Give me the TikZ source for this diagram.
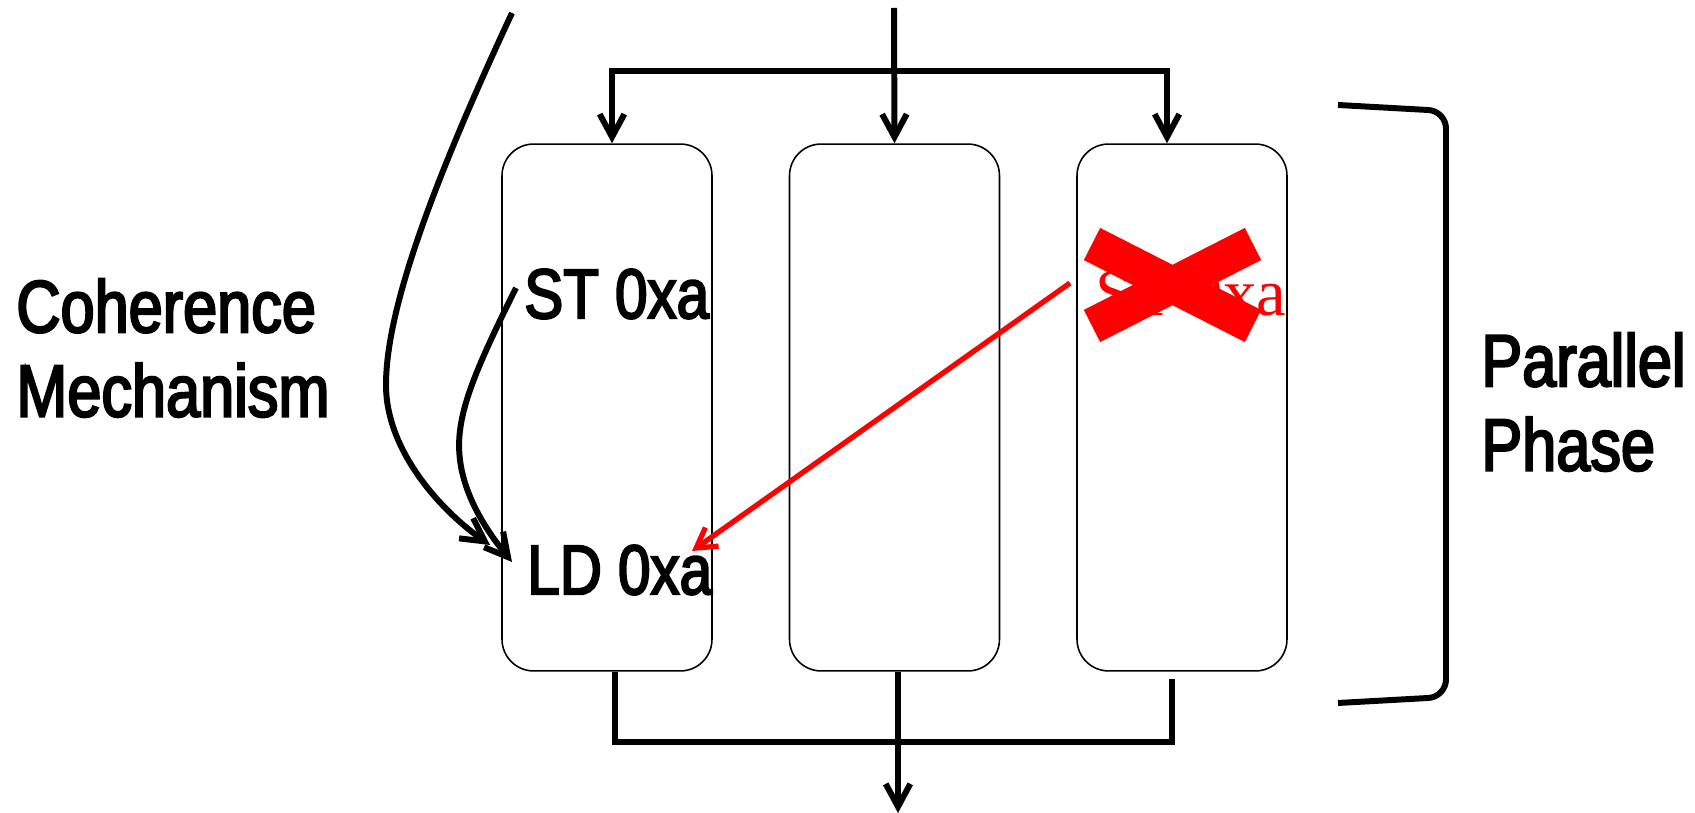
\documentclass[tikz,border=0pt]{standalone}
\usepackage{fontspec}
\setmainfont{Liberation Sans}[FakeStretch=0.83,FakeBold=3]
\newfontfamily\crossfont{Liberation Serif}
\usetikzlibrary{arrows.meta}

\begin{document}
\begin{tikzpicture}[x=0.02cm,y=-0.02cm,
  core/.style={draw,line width=0.9pt,rounded corners=18pt,minimum width=4.2cm,minimum height=10.54cm,inner sep=0pt},
  wire/.style={line width=3.4pt},
  flow/.style={wire,-{Straight Barb[length=13pt,width=14pt]}},
  label/.style={font=\fontsize{42}{48}\selectfont,anchor=west,inner sep=0pt,align=left},
  op/.style={label,font=\fontsize{40}{48}\selectfont}]
  \useasboundingbox (0,0) rectangle (1695,813);
  % three cores
  \node[core] (c1) at (607,407.5) {};
  \node[core] (c2) at (894.5,407.5) {};
  \node[core] (c3) at (1182,407.5) {};
  % texts
  \node[op] (st) at (524,294) {ST 0xa};
  \node[op] (ld) at (527,570) {LD 0xa};
  \node[label] (coh) at (16,348) {Coherence\\Mechanism};
  \node[label] (par) at (1481,402) {Parallel\\Phase};
  \node[font=\crossfont\fontsize{38}{40}\selectfont,text=red,anchor=west,inner sep=0pt] (st3) at (1095,294) {ST 0xa};
  \draw[red,line width=20.5pt] (1092,244) -- (1253,326) (1092,326) -- (1253,244);
  % fork on top
  \coordinate (in) at (894,8);
  \coordinate (fl) at (612,71);
  \coordinate (fr) at (1167,71);
  \draw[flow] (in) -- (c2.north);
  \draw[wire,{Straight Barb[length=13pt,width=14pt]}-{Straight Barb[length=13pt,width=14pt]}]
    (fl |- c1.north) -- (fl) -- (fr) -- (fr |- c3.north);
  % join at the bottom
  \coordinate (jl) at (615,742);
  \coordinate (jr) at (1172,742);
  \coordinate (out) at (898,813);
  \draw[wire] (jl |- c1.south) -- (jl) -- (jr) -- (1172,679);
  \draw[flow] (out |- c2.south) -- (out);
  % bracket
  \draw[wire,rounded corners=10pt] (1338,105) -- (1446,111) -- (1446,697) -- (1338,703);
  % coherence curves
  \coordinate (cohsrc) at (512,13);
  \coordinate (cohin) at (490,545);
  \coordinate (ldin) at (512,562);
  \draw[flow] (cohsrc) .. controls (420,210) and (386,320) .. (386,385)
    .. controls (386,450) and (440,510) .. (cohin);
  \draw[flow] ([xshift=-0.16cm,yshift=0.12cm]st.west) .. controls (470,380) and (455,420) .. (460,460)
    .. controls (465,500) and (490,535) .. (ldin);
  % red forwarding arrow
  \coordinate (rsrc) at (1070,283);
  \coordinate (rdst) at (692,551);
  \draw[red,line width=3pt,-{Straight Barb[length=11pt,width=13pt]}] (rsrc) -- (rdst);
\end{tikzpicture}
\end{document}
